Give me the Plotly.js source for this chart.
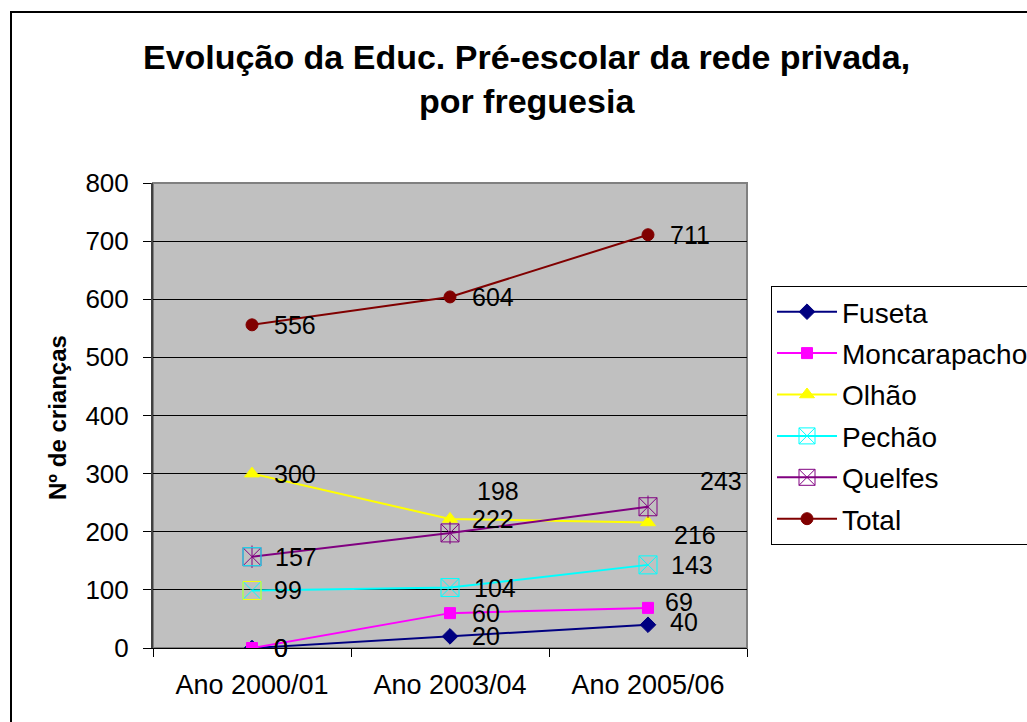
<!DOCTYPE html>
<html><head><meta charset="utf-8">
<script src="https://cdn.plot.ly/plotly-3.0.1.min.js"></script>
<style>html,body{margin:0;padding:0;background:#fff;} #chart{width:1027px;height:722px;}</style>
</head><body><div id="chart"></div>
<script>
// ---- data ----
const categories = ['Ano 2000/01', 'Ano 2003/04', 'Ano 2005/06'];
const fuseta = [0, 20, 40];
const moncarapacho = [0, 60, 69];
const olhao = [300, 222, 216];
const pechao = [99, 104, 143];
const quelfes = [157, 198, 243];
const total = [556, 604, 711];
const seriesNames = ['Fuseta', 'Moncarapacho', 'Olhão', 'Pechão', 'Quelfes', 'Total'];
const yTickVals = [0, 100, 200, 300, 400, 500, 600, 700, 800];
const titleText = 'Evolução da Educ. Pré-escolar da rede privada,<br>por freguesia';
const yTitleText = 'Nº de crianças';

// ---- layout geometry ----
const W = 1027, H = 722, L = 153, R = 280, T = 183, B = 74;
const pw = W - L - R, ph = H - T - B;
const px = x => (x - L) / pw;
const py = y => (H - B - y) / ph;
const FONT = 'Liberation Sans, Arial, sans-serif';

const seriesData = [fuseta, moncarapacho, olhao, pechao, quelfes, total];
const styles = [
  {color: '#000080', symbol: 'diamond', size: 12},
  {color: '#FF00FF', symbol: 'square', size: 11},
  {color: '#FFFF00', symbol: 'triangle-up', size: 13},
  {color: '#00FFFF', symbol: 'square-x-open', size: 18},
  {color: '#800080', symbol: 'square-x-open', size: 18},
  {color: '#800000', symbol: 'circle', size: 12}
];
// label offsets in px [dx, dy(down)]
const labelOffsets = [
  [[20, 0], [20, 0], [20, -3]],
  [[20, 0], [20, 0], [15, -6]],
  [[20, 0], [20, 0], [24, 13]],
  [[20, 0], [22, 0], [21, 0]],
  [[21, 0], [25, -42], [50, -26]],
  [[20, 0], [20, 0], [20, 0]]
];

const traces = [];
seriesData.forEach((vals, i) => {
  const s = styles[i];
  traces.push({
    type: 'scatter', mode: 'lines+markers', name: seriesNames[i],
    x: categories, y: vals, legendgroup: 'g' + i,
    line: {color: s.color, width: 2},
    marker: {symbol: s.symbol, size: s.size, color: s.color, line: {color: s.color, width: 1}},
    hoverinfo: 'skip'
  });
});
// extra strokes: vertical bar of Quelfes asterisk
traces.push({
  type: 'scatter', mode: 'markers', x: categories, y: quelfes, showlegend: false,
  marker: {symbol: 'line-ns-open', size: 16, color: '#800080', line: {color: '#800080', width: 1}}, hoverinfo: 'skip'
});
// boxes with odd colours at first point (as in the reference)
traces.push({
  type: 'scatter', mode: 'markers', x: [categories[0]], y: [pechao[0]], showlegend: false,
  marker: {symbol: 'square-open', size: 18, color: '#FFFF00', line: {color: '#FFFF00', width: 1}}, hoverinfo: 'skip'
});
traces.push({
  type: 'scatter', mode: 'markers', x: [categories[0]], y: [quelfes[0]], showlegend: false,
  marker: {symbol: 'square-open', size: 18, color: '#00FFFF', line: {color: '#00FFFF', width: 1}}, hoverinfo: 'skip'
});

const annotations = [];
seriesData.forEach((vals, i) => {
  vals.forEach((v, j) => {
    const off = labelOffsets[i][j];
    annotations.push({
      x: categories[j], y: v, xref: 'x', yref: 'y', text: String(v), showarrow: false,
      xanchor: 'left', yanchor: 'middle', xshift: off[0], yshift: -off[1],
      font: {family: FONT, size: 25, color: '#000'}
    });
  });
});
annotations.push({
  xref: 'paper', yref: 'paper', x: px(57), y: py(417), text: '<b>' + yTitleText + '</b>',
  textangle: -90, showarrow: false, xanchor: 'center', yanchor: 'middle',
  font: {family: FONT, size: 24, color: '#000'}
});
// chart title
annotations.push({
  xref: 'paper', yref: 'paper', x: px(526), y: py(36), text: '<b>' + titleText + '</b>',
  showarrow: false, xanchor: 'center', yanchor: 'top', align: 'center',
  font: {family: FONT, size: 34, color: '#000'}
});

const layout = {
  width: W, height: H,
  margin: {l: L, r: R, t: T, b: B, autoexpand: false},
  paper_bgcolor: '#FFFFFF', plot_bgcolor: '#C0C0C0',
  xaxis: {
    type: 'category', range: [-0.5, 2.5], showgrid: false, zeroline: false,
    showline: true, linecolor: '#000', linewidth: 1,
    ticks: 'outside', tickson: 'boundaries', ticklen: 8, tickcolor: '#000',
    ticklabelstandoff: 13,
    tickfont: {family: FONT, size: 27, color: '#000'}, fixedrange: true
  },
  yaxis: {
    range: [0, 800], tickvals: yTickVals, ticktext: yTickVals.map(String),
    showgrid: true, gridcolor: '#000', gridwidth: 1, zeroline: false,
    showline: true, linecolor: '#404040', linewidth: 2,
    ticks: 'outside', ticklen: 8, tickcolor: '#000', ticklabelstandoff: 9,
    tickfont: {family: FONT, size: 26, color: '#000'}, fixedrange: true
  },
  showlegend: true,
  legend: {
    x: px(771), y: py(286), xanchor: 'left', yanchor: 'top',
    bgcolor: '#FFFFFF', bordercolor: '#000', borderwidth: 1,
    font: {family: FONT, size: 28, color: '#000'},
    traceorder: 'grouped', tracegroupgap: 2, itemwidth: 60
  },
  shapes: [
    {type: 'rect', xref: 'paper', yref: 'paper', x0: 0, x1: 1, y0: 0, y1: 1,
     line: {color: '#808080', width: 2}, layer: 'below'},
    {type: 'rect', xref: 'paper', yref: 'paper', x0: px(11), x1: px(1045), y0: py(12), y1: py(745),
     line: {color: '#000', width: 2}}
  ],
  annotations: annotations
};

Plotly.newPlot('chart', traces, layout, {displayModeBar: false, staticPlot: true});
</script>
</body></html>
